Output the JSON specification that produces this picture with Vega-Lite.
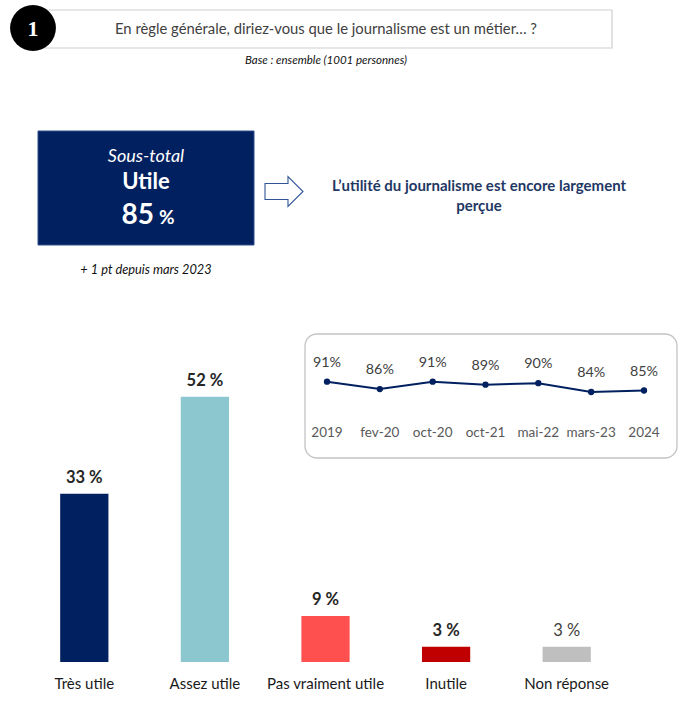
{
  "$schema": "https://vega.github.io/schema/vega-lite/v6.json",
  "width": 682,
  "height": 704,
  "autosize": {"type": "fit", "contains": "padding"},
  "padding": 0,
  "background": "white",
  "config": {"view": {"stroke": null}, "font": "Lato"},
  "data": {"values": [{}]},
  "layer": [
    {"mark": {"type": "rect", "x": 40, "x2": 612, "y": 10, "y2": 48, "fill": "white", "stroke": "#cfcfcf", "strokeWidth": 1.2}, "encoding": {}},
    {"mark": {"type": "point", "shape": "circle", "x": 33, "y": 28, "size": 2100, "filled": true, "fill": "#000000", "opacity": 1, "strokeWidth": 0}, "encoding": {}},
    {"mark": {"type": "text", "x": 33, "y": 29, "text": "1", "font": "Liberation Serif", "fontWeight": "bold", "fontSize": 22, "fill": "white", "align": "center", "baseline": "middle"}, "encoding": {}},
    {"mark": {"type": "text", "x": 326, "y": 30, "text": "En règle générale, diriez-vous que le journalisme est un métier… ?", "fontSize": 14.8, "fill": "#404040", "align": "center", "baseline": "middle"}, "encoding": {}},
    {"mark": {"type": "text", "x": 326, "y": 61, "text": "Base : ensemble (1001 personnes)", "fontSize": 11.5, "fontStyle": "italic", "fill": "#111111", "align": "center", "baseline": "middle"}, "encoding": {}},
    {"mark": {"type": "rect", "x": 38, "x2": 254, "y": 131, "y2": 245, "fill": "#002060", "stroke": "#2f4f8f", "strokeWidth": 1}, "encoding": {}},
    {"mark": {"type": "text", "x": 146, "y": 157, "text": "Sous-total", "fontSize": 18, "fontStyle": "italic", "fill": "white", "align": "center", "baseline": "middle"}, "encoding": {}},
    {"mark": {"type": "text", "x": 146, "y": 182, "text": "Utile", "fontSize": 22, "fontWeight": "bold", "fill": "white", "align": "center", "baseline": "middle"}, "encoding": {}},
    {"mark": {"type": "text", "x": 154, "y": 224, "text": "85", "fontSize": 28, "fontWeight": "bold", "fill": "white", "align": "right", "baseline": "alphabetic"}, "encoding": {}},
    {"mark": {"type": "text", "x": 159, "y": 224, "text": "%", "fontSize": 19, "fontWeight": "bold", "fill": "white", "align": "left", "baseline": "alphabetic"}, "encoding": {}},
    {"mark": {"type": "text", "x": 146, "y": 270, "text": "+ 1 pt depuis mars 2023", "fontSize": 12.8, "fontStyle": "italic", "fill": "#111111", "align": "center", "baseline": "middle"}, "encoding": {}},
    {"mark": {"type": "point", "x": 284, "y": 191.5, "size": 1444, "shape": "M-1,-0.42 L0.21,-0.42 L0.21,-0.78 L1,0 L0.21,0.78 L0.21,0.42 L-1,0.42 Z", "filled": true, "fill": "white", "stroke": "#2f5597", "strokeWidth": 1.1, "opacity": 1}, "encoding": {}},
    {"mark": {"type": "text", "x": 479, "y": 186, "text": ["L’utilité du journalisme est encore largement", "perçue"], "lineHeight": 20, "fontSize": 15, "fontWeight": "bold", "fill": "#1f3864", "align": "center", "baseline": "middle"}, "encoding": {}},
    {"mark": {"type": "rect", "x": 305, "x2": 677, "y": 334, "y2": 458, "fill": null, "fillOpacity": 0, "stroke": "#c4c4c4", "strokeWidth": 1.3, "cornerRadius": 12}, "encoding": {}},
    {
      "data": {"values": [
        {"cat": "Très utile", "value": 33, "label": "33 %"},
        {"cat": "Assez utile", "value": 52, "label": "52 %"},
        {"cat": "Pas vraiment utile", "value": 9, "label": "9 %"},
        {"cat": "Inutile", "value": 3, "label": "3 %"},
        {"cat": "Non réponse", "value": 3, "label": "3 %"}
      ]},
      "encoding": {
        "x": {"field": "cat", "type": "nominal", "sort": null, "axis": null,
              "scale": {"type": "band", "range": [24, 627], "paddingInner": 0.6, "paddingOuter": 0.3}},
        "y": {"field": "value", "type": "quantitative", "axis": null,
              "scale": {"domain": [0, 60], "range": [662, 356], "nice": false, "zero": true}}
      },
      "layer": [
        {"mark": {"type": "bar"},
         "encoding": {"color": {"field": "cat", "type": "nominal", "legend": null,
           "scale": {"domain": ["Très utile", "Assez utile", "Pas vraiment utile", "Inutile", "Non réponse"],
                     "range": ["#002060", "#8cc6ce", "#ff5050", "#c00000", "#bfbfbf"]}}}},
        {"transform": [{"filter": "datum.cat !== 'Non réponse'"}],
         "mark": {"type": "text", "fontSize": 16.5, "fontWeight": "bold", "fill": "#262626", "baseline": "alphabetic", "dy": -11},
         "encoding": {"text": {"field": "label"}}},
        {"transform": [{"filter": "datum.cat === 'Non réponse'"}],
         "mark": {"type": "text", "fontSize": 16.5, "fill": "#404040", "baseline": "alphabetic", "dy": -11},
         "encoding": {"text": {"field": "label"}}},
        {"mark": {"type": "text", "fontSize": 15, "fill": "#1a1a1a", "baseline": "alphabetic", "dy": 27},
         "encoding": {"y": {"datum": 0, "type": "quantitative"}, "text": {"field": "cat"}}}
      ]
    },
    {
      "data": {"values": [
        {"period": "2019", "value": 91, "label": "91%"},
        {"period": "fev-20", "value": 86, "label": "86%"},
        {"period": "oct-20", "value": 91, "label": "91%"},
        {"period": "oct-21", "value": 89, "label": "89%"},
        {"period": "mai-22", "value": 90, "label": "90%"},
        {"period": "mars-23", "value": 84, "label": "84%"},
        {"period": "2024", "value": 85, "label": "85%"}
      ]},
      "encoding": {
        "x": {"field": "period", "type": "ordinal", "sort": null, "axis": null,
              "scale": {"type": "point", "range": [327, 644], "padding": 0}},
        "y": {"field": "value", "type": "quantitative", "axis": null,
              "scale": {"domain": [80, 95], "range": [397.9, 375.8], "nice": false, "zero": false}}
      },
      "layer": [
        {"mark": {"type": "line", "color": "#002060", "strokeWidth": 2}},
        {"mark": {"type": "point", "filled": true, "color": "#002060", "size": 40, "opacity": 1}},
        {"mark": {"type": "text", "fontSize": 14.3, "fill": "#404040", "baseline": "middle", "dy": -19},
         "encoding": {"text": {"field": "label"}}},
        {"mark": {"type": "text", "fontSize": 13.5, "fill": "#595959", "baseline": "middle", "dy": 35},
         "encoding": {"y": {"datum": 80, "type": "quantitative"}, "text": {"field": "period"}}}
      ]
    }
  ],
  "resolve": {"scale": {"x": "independent", "y": "independent", "color": "independent"}}
}
